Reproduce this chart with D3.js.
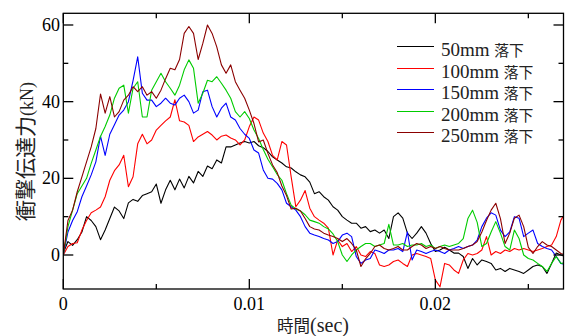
<!DOCTYPE html>
<html>
<head>
<meta charset="utf-8">
<script src="https://cdn.jsdelivr.net/npm/d3@7"></script>
<style>
  body { margin: 0; background: #fff; }
  svg { display: block; }
</style>
</head>
<body>
<svg id="chart" width="565" height="336"></svg>
<script>
// sampling step of the traces (sec)
const dt = 0.00025;

const drop50 = [0.5, 3.5, 2.5, 4, 6, 10, 9, 7.4, 4, 6.5,
  9.5, 12.5, 11.5, 9.5, 13.6, 14.5, 14, 15.5, 16, 16.5,
  18.5, 13.5, 17, 19.5, 17, 19.8, 17.5, 20.5, 18.8, 21.8,
  20.5, 23.2, 22.5, 24.8, 24, 28.2, 28.2, 28.7, 29.2, 29.6,
  29.2, 29.6, 28.5, 28, 27, 25.6, 24.8, 24, 23, 22.7,
  21.7, 20.9, 20.4, 19, 16, 16.5, 15.2, 14.3, 12.6, 11.7,
  10, 9.1, 8.3, 8.3, 7, 7.4, 6.1, 6.5, 5.7, 6.5,
  4.3, 10, 11, 9.6, 5.7, 4.3, 5.7, 7.4, 5.7, 3,
  0.9, 1.3, 2, 1.3, 0.5, 0.5, -0.4, -3.5, -0.9, -2.6,
  -1.3, -1.7, -2.2, -3.9, -3.5, -4.3, -3.5, -3.9, -4.3, -4.8,
  -3.9, -3, -2.6, -3, -4.8, -2.2, 0.5, 0, -0.5];

const drop100 = [0, 2.2, 3, 3.2, 6.5, 9, 11, 11.7, 12.5, 15.2,
  19.5, 22, 23.5, 26, 17.8, 20.4, 29, 31.5, 29, 30,
  32.6, 33.8, 35, 36, 40.5, 35, 34.7, 33.8, 29.6, 30.8,
  31.5, 32.2, 31.3, 30, 31, 31.3, 30.5, 30, 28.7, 30,
  33.5, 36, 35.2, 31.8, 29.6, 26, 24.8, 29.6, 28.7, 20.4,
  12.6, 14.3, 16.8, 12.2, 10, 9.1, 8.3, 7, 0, 3.9,
  2.2, 3, 0.9, 2.2, 0, -0.4, 0.9, 0.4, -2.6, -3,
  -2.6, -1.7, -1.3, -2.2, -3, 0, 0.4, 0, -0.4, -0.9,
  -6.5, -8.3, -2.2, -2.6, -3.9, -4.8, -1.3, 0.4, 0, 0.4,
  1.3, 4.8, 0, 0.9, 0.4, 1.3, 0.9, 1.7, 1.3, 1.7,
  1.3, 0.9, 1.3, 1.7, 2.2, 2.6, 4.8, 9.1, 11];

const drop150 = [0, 6, 9, 11.3, 15.2, 18, 20.9, 24.3, 31, 26,
  31.5, 34, 36.5, 37.8, 40, 45.5, 51.7, 42.2, 40.4, 40.4,
  38.7, 39.6, 40.9, 39.6, 39.1, 40.9, 41.7, 40, 37, 37.8,
  42.6, 43, 38.7, 36, 38.3, 39.6, 36, 35.2, 33, 31.5,
  30.4, 27.4, 26.6, 22.2, 20, 19.8, 18.7, 17, 13.5, 12.6,
  11.7, 10, 7.4, 5.7, 5.2, 4.8, 4.3, 3.9, 3, 3.5,
  5.2, 5.7, 4.8, -0.4, -2.2, -1.3, -0.9, 1.3, 0.9, 0.4,
  1.3, 1.3, 1.7, 0.9, 6, -1.3, 1.3, 0.9, 0.4, 0.9,
  1.3, 0.9, 0.4, 1.3, 1.7, 2.2, 1.7, 2.2, 2.6, 3.9,
  7.4, 9.6, 11, 10.4, 6.5, 4.8, 6, 10, 9.6, 4.8,
  5.7, 6.5, 3, 2.2, 1.7, 1.3, -0.4, -2.2, -2.5];

const drop200 = [0, 7.4, 11.7, 16, 18, 20, 23.9, 27.4, 30.9, 33.5,
  36.5, 40.9, 43.5, 44.3, 37, 43.5, 45.2, 36, 36, 43,
  45.2, 47.4, 45.2, 43.5, 41.7, 44.3, 48.3, 50.9, 48.7, 39.6,
  42.2, 45.6, 45.2, 46.5, 44.8, 43, 40.9, 37.4, 36, 37.4,
  35.6, 32.6, 30.4, 27.5, 25, 23, 21, 19.5, 16, 13,
  12, 11.5, 10.5, 9.1, 8.7, 8.3, 7.4, 6.8, 5.5, 3.5,
  0, -1.7, 0, 1.3, 2.2, 3, 3, 2.2, 2.6, 3,
  8, 2.6, 2.6, 3, 2.2, 2.6, 2.6, 3, 2.2, 2.6,
  1.7, 2.2, 2.6, 2.2, 2.6, 3, 4.3, 9.5, 11.7, 8.5,
  2.2, 3, 6, 8.7, 5.7, 2.2, 1.3, 6.5, 4.3, 0,
  -0.9, -1.3, -2.2, -3, -4.3, -2.2, -0.4, -2.2, -2];

const drop250 = [0, 9, 11.7, 16.5, 20.4, 24.3, 28.2, 33, 42, 37,
  41.3, 36, 37.4, 40.4, 41.7, 43.9, 42.6, 43.9, 41.7, 42.6,
  40.9, 43, 46, 48.7, 48.3, 51, 57.8, 59.6, 57.8, 51,
  55.2, 60, 57.8, 54.3, 49.6, 47.4, 49.6, 45.2, 43, 40.9,
  37.8, 34.3, 29.5, 30, 26.5, 23.5, 21.5, 18, 15.5, 12,
  12.2, 11.5, 9.5, 7.4, 6.8, 6.5, 5.7, 5.2, 4.8, 4.3,
  3.5, 4.3, 3, 1.3, -3, -1, 0.4, 2.2, 2.6, 1.7,
  1.3, 1.7, 2.2, 1.3, 1.3, 2.2, 3, 2.6, 1.7, 2.2,
  1.7, 2.2, 1.7, 1.3, 1.3, 1.3, 1.7, 2.2, 2.6, 3.5,
  6, 9, 11.7, 13.5, 9.5, 3, 5.7, 9.6, 10.4, 7.4,
  2, 0.4, 2.2, 3.5, 2.6, 2.2, 1.3, 0.4, 0];

const seriesNames = ["50mm 落下", "100mm 落下", "150mm 落下", "200mm 落下", "250mm 落下"];
const seriesColors = ["#000000", "#ff0000", "#0000ff", "#00cc00", "#8b0000"];
const seriesValues = [drop50, drop100, drop150, drop200, drop250];

const xMajor = [0, 0.01, 0.02];
const xMinor = [0.005, 0.015, 0.025];
const yMajor = [0, 20, 40, 60];
const yMinor = [10, 30, 50];

const svg = d3.select("#chart");
const pLeft = 63.3, pRight = 563.5, pTop = 13.3, pBottom = 289;

const x = d3.scaleLinear().domain([0, 0.02689]).range([pLeft, pRight]);
const y = d3.scaleLinear().domain([-8.87, 63.05]).range([pBottom, pTop]);

svg.append("rect").attr("width", 565).attr("height", 336).attr("fill", "#fff");

svg.append("clipPath").attr("id", "plotClip")
  .append("rect")
  .attr("x", pLeft).attr("y", pTop)
  .attr("width", pRight - pLeft).attr("height", pBottom - pTop);

let line = d3.line()
  .x(function(d, i) { return x(i * dt); })
  .y(function(d) { return y(d); });

let plot = svg.append("g").attr("clip-path", "url(#plotClip)");
seriesValues.forEach(function(vals, k) {
  plot.append("path")
    .datum(vals)
    .attr("fill", "none")
    .attr("stroke", seriesColors[k])
    .attr("stroke-width", 1.1)
    .attr("stroke-linejoin", "round")
    .attr("d", line);
});

// frame
svg.append("rect")
  .attr("x", pLeft).attr("y", pTop)
  .attr("width", pRight - pLeft).attr("height", pBottom - pTop)
  .attr("fill", "none")
  .attr("stroke", "#000")
  .attr("stroke-width", 1.3);

// inward ticks on all four sides
let ticks = svg.append("g").attr("stroke", "#000").attr("stroke-width", 1.3);
function xTicks(vals, len) {
  vals.forEach(function(v) {
    ticks.append("line").attr("x1", x(v)).attr("x2", x(v)).attr("y1", pBottom).attr("y2", pBottom - len);
    ticks.append("line").attr("x1", x(v)).attr("x2", x(v)).attr("y1", pTop).attr("y2", pTop + len);
  });
}
function yTicks(vals, len) {
  vals.forEach(function(v) {
    ticks.append("line").attr("x1", pLeft).attr("x2", pLeft + len).attr("y1", y(v)).attr("y2", y(v));
    ticks.append("line").attr("x1", pRight).attr("x2", pRight - len).attr("y1", y(v)).attr("y2", y(v));
  });
}
xTicks(xMajor, 10); xTicks(xMinor, 5);
yTicks(yMajor, 10); yTicks(yMinor, 5);

const serif = "'Liberation Serif', 'Times New Roman', serif";
const cjk = "'Noto Sans CJK JP', 'Noto Sans CJK SC', sans-serif";

svg.append("g").selectAll("text")
  .data(xMajor).enter().append("text")
  .attr("x", function(d) { return x(d); })
  .attr("y", 310)
  .attr("text-anchor", "middle")
  .attr("font-family", serif)
  .attr("font-size", 18)
  .text(function(d) { return d === 0 ? "0" : d3.format(".2f")(d); });

svg.append("g").selectAll("text")
  .data(yMajor).enter().append("text")
  .attr("x", 60)
  .attr("y", function(d) { return y(d) + 6; })
  .attr("text-anchor", "end")
  .attr("font-family", serif)
  .attr("font-size", 18)
  .text(function(d) { return d; });

// axis titles
let xt = svg.append("text")
  .attr("x", 313).attr("y", 332)
  .attr("text-anchor", "middle")
  .attr("fill", "#222");
xt.append("tspan").attr("font-family", cjk).attr("font-size", 16.5).text("時間");
xt.append("tspan").attr("font-family", serif).attr("font-size", 20).text("(sec)");

let yt = svg.append("text")
  .attr("transform", "translate(33,151.5) rotate(-90)")
  .attr("text-anchor", "middle")
  .attr("fill", "#222");
yt.append("tspan").attr("font-family", cjk).attr("font-size", 21).text("衝撃伝達力");
yt.append("tspan").attr("font-family", serif).attr("font-size", 18).text("(kN)");

// legend
let legend = svg.append("g");
seriesNames.forEach(function(name, k) {
  let ly = Math.round(46 + k * 21.5) + 0.5;
  legend.append("line")
    .attr("x1", 397).attr("x2", 434)
    .attr("y1", ly).attr("y2", ly)
    .attr("stroke", seriesColors[k])
    .attr("stroke-width", 1);
  let t = legend.append("text")
    .attr("x", 441).attr("y", ly + 9)
    .attr("fill", "#222");
  let parts = name.split(" ");
  t.append("tspan").attr("font-family", serif).attr("font-size", 19).text(parts[0] + " ");
  t.append("tspan").attr("font-family", cjk).attr("font-size", 14.8).text(parts[1]);
});
</script>
</body>
</html>
